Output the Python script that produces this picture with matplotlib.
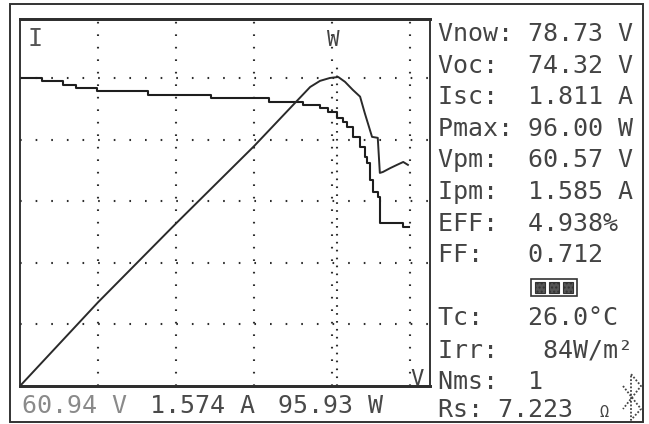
import matplotlib
matplotlib.use("Agg")
from matplotlib import pyplot as plt
from matplotlib.lines import Line2D
from matplotlib.patches import Rectangle

# I-V / P-V kurve vom Messgeraet
volt_i = [0, 4.2, 8.3, 10.8, 14.8, 24.6, 36.7, 47.9, 54.4, 57.7, 59.2, 60.94, 62.1,
          62.9, 64.0, 65.4, 66.3, 66.7, 67.3, 67.9, 68.8, 69.2, 73.7, 74.9]
curr = [1.811, 1.793, 1.770, 1.752, 1.735, 1.711, 1.693, 1.670, 1.652, 1.635, 1.611,
        1.574, 1.552, 1.523, 1.464, 1.405, 1.347, 1.311, 1.211, 1.141, 1.111, 0.958,
        0.935, 0.935]

volt_p = [0, 15, 30, 45, 53.8, 55.8, 57.7, 59.6, 61.2, 62.5, 64.0, 65.4, 66.3, 67.7,
          68.8, 69.2, 69.8, 71.2, 72.5, 73.7, 74.6]
power = [0, 26.0, 50.5, 74.5, 89.5, 92.9, 94.8, 95.7, 96.0, 94.5, 92.0, 89.9, 84.8,
         77.4, 77.1, 66.2, 66.5, 67.7, 68.7, 69.6, 68.7]

v_grid = [15, 30, 45, 60, 75]
i_grid = [0.3622, 0.7244, 1.0866, 1.4488, 1.811]
cursor_v = 60.94

readout = [("60.94 V", "#8a8a8a"), ("1.574 A", "#4a4a4a"), ("95.93 W", "#4a4a4a")]
panel = ["Vnow: 78.73 V", "Voc:  74.32 V", "Isc:  1.811 A", "Pmax: 96.00 W",
         "Vpm:  60.57 V", "Ipm:  1.585 A", "EFF:  4.938%", "FF:   0.712", "",
         "Tc:   26.0°C", "Irr:   84W/m²", "Nms:  1", "Rs: 7.223"]

W, H = 649, 424
def fx(x): return x / W
def fy(y): return 1 - y / H

fig = plt.figure(figsize=(6.49, 4.24), dpi=100)
fig.patch.set_facecolor("white")
ink = "#2e2e2e"
mono = "DejaVu Sans Mono"

ax = fig.add_axes([fx(20), fy(386), fx(430) - fx(20), fy(19) - fy(386)])
ax2 = ax.twinx()
ax.set_xlim(0, 410 / 78 * 15)
ax.set_ylim(0, 1.811 * 367 / 308)
ax2.set_ylim(0, 96.0 * 367 / 309)

for v in v_grid:
    ax.axvline(v, color=ink, lw=1.5, ls=(0, (0.8, 5.2)), zorder=1)
for i in i_grid:
    ax.axhline(i, color=ink, lw=1.5, ls=(0, (0.8, 6.7)), zorder=1)
ax.plot([cursor_v, cursor_v], [0, 1.899], color=ink, lw=1.5, ls=(0, (0.8, 3.0)), zorder=1)

ax.plot(volt_i, curr, drawstyle="steps-post", color="#1e1e1e", lw=1.5, zorder=3)
ax2.plot(volt_p, power, color="#2a2a2a", lw=1.4, zorder=3)

for a in (ax, ax2):
    a.set_xticks([])
    a.set_yticks([])
    for s in ("left", "right"):
        a.spines[s].set_linewidth(1.1)
        a.spines[s].set_color(ink)
    for s in ("top", "bottom"):
        a.spines[s].set_linewidth(2.0)
        a.spines[s].set_color(ink)

# aussenrahmen
fig.patches.append(Rectangle((fx(10), fy(422)), fx(643) - fx(10), fy(4) - fy(422),
                             transform=fig.transFigure, fill=False, ec="#333333", lw=1.4))

fs = 18
fig.text(fx(27), fy(46), "I", fontsize=fs, family=mono, color="#555555")
fig.text(fx(327), fy(46), "W", fontsize=fs - 3, family=mono, color="#444444")
fig.text(fx(410), fy(385), "V", fontsize=fs - 2, family=mono, color="#444444")

xs = [22, 150, 278]
for (txt, col), x in zip(readout, xs):
    fig.text(fx(x), fy(413), txt, fontsize=fs, family=mono, color=col, va="baseline")

for k, txt in enumerate(panel):
    yc = 32 + 31.6 * k
    if k == len(panel) - 1:
        yc -= 3
    if txt:
        fig.text(fx(438), fy(yc + 9), txt, fontsize=fs, family=mono, color="#444444",
                 va="baseline")
fig.text(fx(600), fy(417), "Ω", fontsize=11, family=mono, color="#444444", va="baseline")

# kleines symbol in der FF-zeile
fig.patches.append(Rectangle((fx(531), fy(296)), fx(577) - fx(531), fy(279) - fy(296),
                             transform=fig.transFigure, fill=False, ec="#333333", lw=1.2))
for x0 in (535, 549, 563):
    fig.patches.append(Rectangle((fx(x0), fy(293)), fx(x0 + 10) - fx(x0), fy(282) - fy(293),
                                 transform=fig.transFigure, fc="#555555", ec="#333333",
                                 lw=0.8, hatch="...."))

# bluetooth zeichen
bx = [623, 641, 631, 631, 641, 623]
by = [386, 409, 420, 374, 386, 409]
fig.add_artist(Line2D([fx(x) for x in bx], [fy(y) for y in by], transform=fig.transFigure,
                      color="#444444", lw=1.3, ls=(0, (1, 1))))

fig.savefig("out.png", dpi=100)
